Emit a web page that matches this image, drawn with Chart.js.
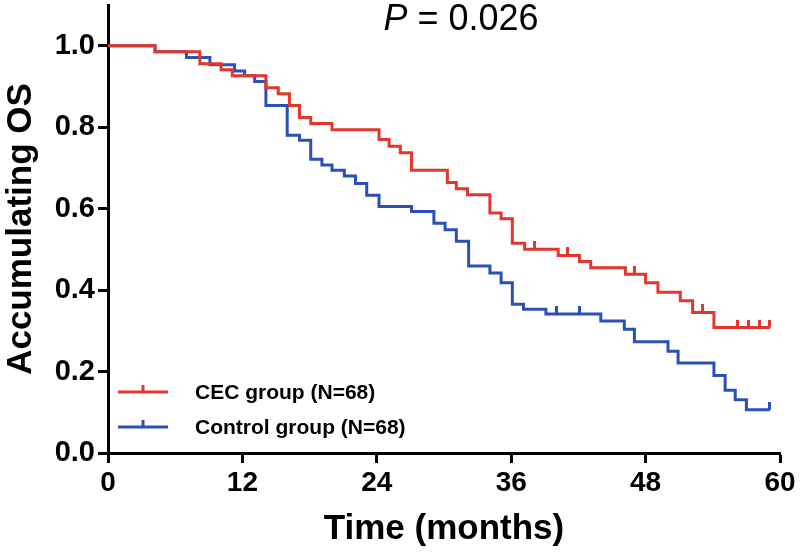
<!DOCTYPE html>
<html>
<head>
<meta charset="utf-8">
<script src="https://cdn.jsdelivr.net/npm/chart.js@4.4.1/dist/chart.umd.min.js"></script>
<style>
  html, body { margin: 0; padding: 0; background: #fff; }
  #wrap { width: 800px; height: 560px; }
</style>
</head>
<body>
<div id="wrap"><canvas id="kmChart" width="800" height="560"></canvas></div>
<script>
// CEC group: event times (months) and survival after each step
const cecTimes = [0, 4.2, 8.2, 10.1, 11.1, 14.1, 15.2, 16.2, 17.1, 18.1, 20.0, 24.2, 25.1, 26.1, 27.1,
  30.3, 31.1, 32.1, 34.1, 35.1, 36.1, 37.2, 40.2, 42.1, 43.1, 46.2, 48.0, 49.1, 51.1, 52.2, 54.1, 59.1];
const cecSurv = [1.0, 0.985, 0.956, 0.941, 0.926, 0.897, 0.882, 0.853, 0.824, 0.809, 0.794, 0.770, 0.753, 0.737, 0.694,
  0.664, 0.649, 0.634, 0.589, 0.575, 0.515, 0.500, 0.485, 0.470, 0.455, 0.439, 0.418, 0.395, 0.374, 0.345, 0.308, 0.308];
const cecCensored = [38.1, 41.0, 47.0, 53.1, 56.2, 57.2, 58.2, 59.1];

// Control group
const ctrlTimes = [0, 4.2, 7.0, 9.1, 11.3, 12.2, 13.1, 14.1, 16.0, 17.1, 18.1, 19.1, 20.0, 21.1, 22.1, 23.1, 24.2,
  27.1, 29.1, 30.1, 31.1, 32.2, 34.1, 35.1, 36.1, 37.1, 39.1, 44.0, 46.1, 47.0, 50.0, 50.9, 54.1, 55.1, 56.0, 57.0, 59.1];
const ctrlSurv = [1.0, 0.985, 0.971, 0.953, 0.938, 0.926, 0.912, 0.853, 0.780, 0.768, 0.721, 0.707, 0.694, 0.680, 0.662, 0.633, 0.605,
  0.593, 0.564, 0.548, 0.520, 0.459, 0.442, 0.418, 0.365, 0.353, 0.341, 0.324, 0.304, 0.273, 0.250, 0.221, 0.190, 0.154, 0.131, 0.106, 0.106];
const ctrlCensored = [40.0, 42.1, 59.1];

const xTicks = [0, 12, 24, 36, 48, 60];
const yTicks = [0, 0.2, 0.4, 0.6, 0.8, 1.0];
const groupLabels = ['CEC group (N=68)', 'Control group (N=68)'];
const pValue = '0.026';

const RED = '#e2372d';
const BLUE = '#2b50b7';
const FONT = '"Liberation Sans", Arial, Helvetica, sans-serif';

const toPoints = (times, surv) => times.map((t, i) => ({ x: t, y: surv[i] }));

// survival level in force at time t (step function lookup)
function survAt(times, surv, t) {
  let v = surv[0];
  times.forEach((tt, i) => { if (tt <= t) v = surv[i]; });
  return v;
}

// small upward tick used as censor marker
function censorMark(color) {
  const c = document.createElement('canvas');
  c.width = 3;
  c.height = 16;
  const g = c.getContext('2d');
  g.fillStyle = color;
  g.fillRect(0, 0, 3, 8);
  return c;
}

const kmText = {
  id: 'kmText',
  afterDraw(chart) {
    const { ctx } = chart;
    ctx.save();
    ctx.fillStyle = '#000';
    ctx.textBaseline = 'middle';
    ctx.textAlign = 'left';

    // P value heading
    ctx.font = `italic 36px ${FONT}`;
    const pW = ctx.measureText('P').width;
    ctx.font = `36px ${FONT}`;
    const rest = ' = ' + pValue;
    const restW = ctx.measureText(rest).width;
    const x0 = 461 - (pW + restW) / 2;
    ctx.font = `italic 36px ${FONT}`;
    ctx.fillText('P', x0, 20);
    ctx.font = `36px ${FONT}`;
    ctx.fillText(rest, x0 + pW, 20);

    // legend
    const rows = [{ color: RED, y: 392 }, { color: BLUE, y: 427 }];
    rows.forEach((r, i) => {
      ctx.strokeStyle = r.color;
      ctx.lineWidth = 3;
      ctx.beginPath();
      ctx.moveTo(118, r.y);
      ctx.lineTo(168, r.y);
      ctx.moveTo(143, r.y);
      ctx.lineTo(143, r.y - 7);
      ctx.stroke();
      ctx.fillStyle = '#000';
      ctx.font = `bold 21px ${FONT}`;
      ctx.fillText(groupLabels[i], 195, r.y + 1);
    });
    ctx.restore();
  },
};

const lineStyle = {
  type: 'line',
  stepped: 'before',
  borderWidth: 3,
  pointRadius: 0,
  fill: false,
  borderCapStyle: 'butt',
  borderJoinStyle: 'miter',
};

new Chart(document.getElementById('kmChart'), {
  type: 'line',
  data: {
    datasets: [
      { ...lineStyle, label: groupLabels[0], data: toPoints(cecTimes, cecSurv), borderColor: RED, order: 1 },
      { ...lineStyle, label: groupLabels[1], data: toPoints(ctrlTimes, ctrlSurv), borderColor: BLUE, order: 2 },
      {
        type: 'scatter',
        data: cecCensored.map((t) => ({ x: t, y: survAt(cecTimes, cecSurv, t) })),
        pointStyle: censorMark(RED),
        order: 0,
      },
      {
        type: 'scatter',
        data: ctrlCensored.map((t) => ({ x: t, y: survAt(ctrlTimes, ctrlSurv, t) })),
        pointStyle: censorMark(BLUE),
        order: 0,
      },
    ],
  },
  options: {
    responsive: false,
    animation: false,
    layout: { padding: { top: 2, right: 20, left: 0, bottom: 0 } },
    plugins: {
      legend: { display: false },
      tooltip: { enabled: false },
    },
    scales: {
      x: {
        type: 'linear',
        min: 0,
        max: 60,
        afterBuildTicks: (scale) => { scale.ticks = xTicks.map((v) => ({ value: v })); },
        afterFit: (scale) => { scale.height = 107; },
        border: { color: '#000', width: 3 },
        grid: { drawOnChartArea: false, drawTicks: true, tickLength: 10, tickWidth: 3, tickColor: '#000', color: '#000' },
        ticks: { color: '#000', padding: 3, maxRotation: 0, font: { family: FONT, size: 28, weight: 'bold' } },
        title: {
          display: true,
          text: 'Time (months)',
          color: '#000',
          font: { family: FONT, size: 35, weight: 'bold' },
          padding: { top: 0, bottom: 10 },
        },
      },
      y: {
        type: 'linear',
        min: 0,
        max: 1.1,
        afterBuildTicks: (scale) => { scale.ticks = yTicks.map((v) => ({ value: v })); },
        afterFit: (scale) => {
          scale.width = 108;
          scale.paddingTop = 0;
          scale.paddingBottom = 0;
        },
        border: { color: '#000', width: 3 },
        grid: { drawOnChartArea: false, drawTicks: true, tickLength: 10, tickWidth: 3, tickColor: '#000', color: '#000' },
        ticks: {
          color: '#000',
          padding: 3,
          font: { family: FONT, size: 29, weight: 'bold' },
          callback: (v) => Number(v).toFixed(1),
        },
        title: {
          display: true,
          text: 'Accumulating OS',
          color: '#000',
          font: { family: FONT, size: 35, weight: 'bold' },
          padding: { top: 0, bottom: 0 },
        },
      },
    },
  },
  plugins: [kmText],
});
</script>
</body>
</html>
